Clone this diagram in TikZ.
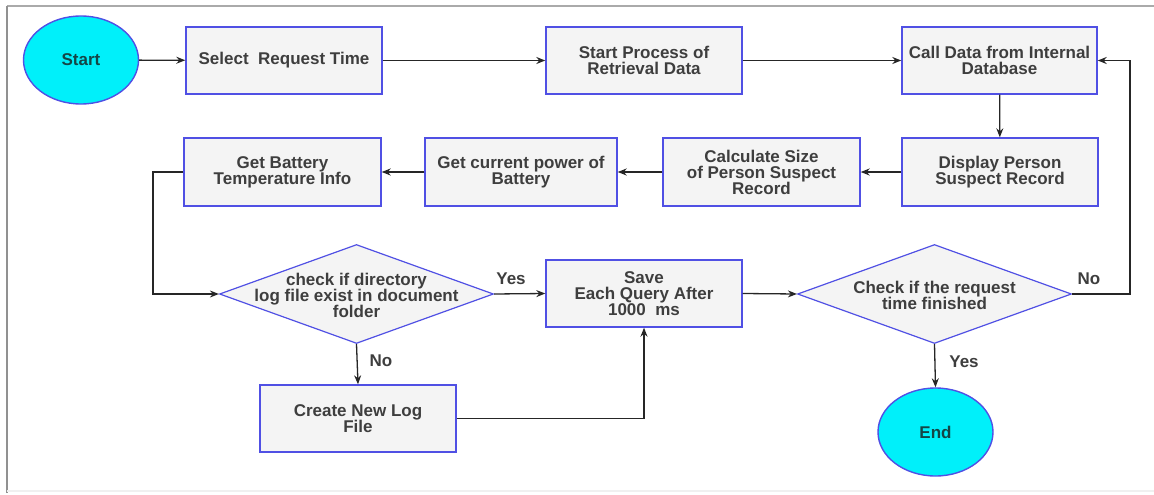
\documentclass[tikz,border=0pt]{standalone}
\usepackage{fontspec}
\setmainfont{Liberation Sans}
\usetikzlibrary{shapes.geometric,arrows.meta}
\definecolor{bord}{RGB}{80,80,228}
\definecolor{boxfill}{RGB}{244,244,244}
\definecolor{txt}{RGB}{62,62,62}
\definecolor{termfill}{RGB}{0,240,250}
\definecolor{termtxt}{RGB}{20,70,70}
\definecolor{frame}{RGB}{170,170,170}
\tikzset{
  procbox/.style={draw=bord, line width=1.4pt, fill=boxfill, rectangle, minimum height=67pt, align=center, text=txt, font=\bfseries\fontsize{17}{16}\selectfont, inner sep=2pt},
  term/.style={draw=bord, line width=1.4pt, fill=termfill, ellipse, minimum width=115pt, minimum height=88pt, text=termtxt, font=\bfseries\fontsize{17}{16}\selectfont},
  decide/.style={draw=bord, line width=1.2pt, fill=boxfill, diamond, aspect=2.77, minimum width=274pt, minimum height=99pt, inner sep=0pt},
  dtext/.style={align=center, text=txt, font=\bfseries\fontsize{17}{16}\selectfont},
  lbl/.style={text=txt, font=\bfseries\fontsize{17}{16}\selectfont},
  conn/.style={draw=black!85, line width=1.3pt, -{Stealth[length=9pt,width=7pt]}},
}
\begin{document}
\begin{tikzpicture}[x=1pt,y=-1pt]
\useasboundingbox (0,0) rectangle (1154,495);
% frame
\draw[frame, line width=2pt] (7,6) -- (1154,6);
\draw[frame!85!black, line width=2pt] (7,6) -- (7,493);
\draw[black!6, line width=1.5pt] (7,491) -- (1154,491);
% nodes
\node[term] (start) at (81,60) {Start};
\node[procbox, minimum width=196pt] (sel) at (284,60.5) {Select\ \ Request Time};
\node[procbox, minimum width=196pt] (proc) at (644,60.5) {Start Process of\\Retrieval Data};
\node[procbox, minimum width=195pt] (call) at (999.5,60.5) {Call Data from Internal\\Database};
\node[procbox, minimum width=196pt, minimum height=68pt] (disp) at (1000,172) {Display Person\\Suspect Record};
\node[procbox, minimum width=197pt, minimum height=68pt] (calc) at (761.5,172) {Calculate Size\\of Person Suspect\\Record};
\node[procbox, minimum width=192pt, minimum height=68pt] (pow) at (521,172) {Get current power of\\Battery};
\node[procbox, minimum width=197pt, minimum height=68pt] (temp) at (282.5,172) {Get Battery\\Temperature Info};
\node[decide] (chk1) at (356.5,294) {};
\node[dtext] (chk1t) at (356.5,295) {check if directory\\log file exist in document\\folder};
\node[procbox, minimum width=196pt] (save) at (644,293.5) {Save\\Each Query After\\1000\ \ ms};
\node[decide] (chk2) at (934.5,294) {};
\node[dtext] (chk2t) at (934.5,295) {Check if the request\\time finished};
\node[procbox, minimum width=196pt] (create) at (358,418.5) {Create New Log\\File};
\node[term] (end) at (935.5,432) {End};
% helper coordinates
\coordinate (lloop) at (153,172);
\coordinate (rloop) at (1130,294);
% connectors
\draw[conn] (start) -- (sel);
\draw[conn] (sel) -- (proc);
\draw[conn] (proc) -- (call);
\draw[conn] (call) -- (disp);
\draw[conn] (disp) -- (calc);
\draw[conn] (calc) -- (pow);
\draw[conn] (pow) -- (temp);
\draw[conn] (temp.west) -- (lloop) |- (chk1.west);
\draw[conn] (chk1.east) -- (save.west);
\draw[conn] (chk1.south) -- (create.north);
\draw[conn] (create.east) -| (save.south);
\draw[conn] (save.east) -- (chk2.west);
\draw[conn] (chk2.east) -- (rloop) |- (call.east);
\draw[conn] (chk2.south) -- (end.north);
% labels
\node[lbl] (yes1) at (511,279) {Yes};
\node[lbl] (no1) at (381,361) {No};
\node[lbl] (no2) at (1089,279) {No};
\node[lbl] (yes2) at (964,362) {Yes};
\end{tikzpicture}
\end{document}
